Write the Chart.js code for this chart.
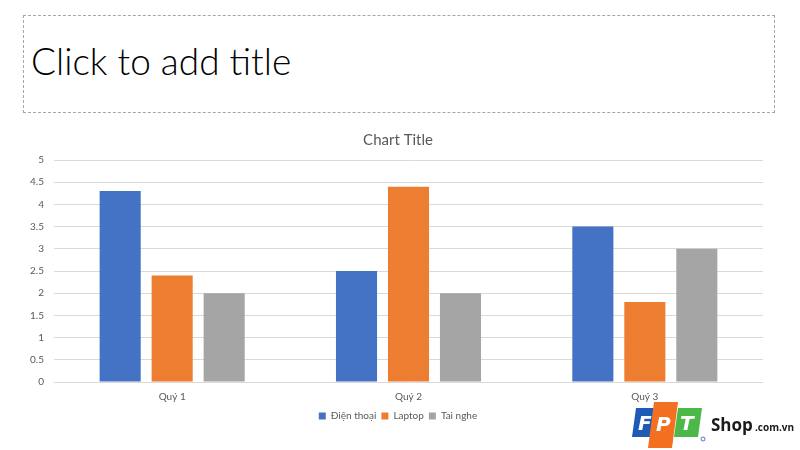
<!DOCTYPE html>
<html lang="vi">
<head>
  <meta charset="UTF-8">
  <title>Chart Title</title>
  <script src="https://cdn.jsdelivr.net/npm/chart.js@4"></script>
  <style>
    html, body { margin: 0; padding: 0; background: #fff; }
    body { width: 800px; height: 450px; position: relative; overflow: hidden; font-family: Lato, "Open Sans", sans-serif; }
    .title-box {
      position: absolute; left: 23px; top: 15px; width: 752px; height: 98px;
      border: 1.5px dashed #a6a6a6; box-sizing: border-box;
    }
    .title-box span {
      position: absolute; left: 7px; top: 26px; font-size: 37px; line-height: 37px; font-weight: 300; color: #000;
      white-space: nowrap;
    }
    .chart-wrap { position: absolute; left: 20px; top: 121px; width: 756px; height: 310px; }
    .logo { position: absolute; left: 628px; top: 400px; }
  </style>
</head>
<body>
  <div class="title-box"><span>Click to add title</span></div>

  <div class="chart-wrap">
    <canvas id="myChart"></canvas>
  </div>

  <!-- logo góc phải -->
  <svg class="logo" width="172" height="50" viewBox="0 0 172 50">
    <path d="M8 8 L28 8 L24 37 L4 37 Z" fill="#1d5bb5"/>
    <path d="M26 2 L50 2 L44 48 L20 48 Z" fill="#f37021"/>
    <path d="M50 8 L74 8 L70 37 L46 37 Z" fill="#4cb848"/>
    <text x="10" y="30" font-family="DejaVu Sans" font-weight="bold" font-style="italic" font-size="20" fill="#fff">F</text>
    <text x="28" y="31" font-family="DejaVu Sans" font-weight="bold" font-style="italic" font-size="20" fill="#fff">P</text>
    <text x="52" y="30" font-family="DejaVu Sans" font-weight="bold" font-style="italic" font-size="20" fill="#fff">T</text>
    <circle cx="75" cy="39" r="2" fill="none" stroke="#1d5bb5" stroke-width="0.8"/>
    <text x="83" y="31" font-family="'Open Sans', sans-serif" font-weight="bold" font-size="17" fill="#1a1a1a">Shop</text>
    <text x="127" y="31" font-family="'Open Sans', sans-serif" font-weight="bold" font-size="10" fill="#1a1a1a">.com.vn</text>
  </svg>

<script>
const categories = ['Quý 1', 'Quý 2', 'Quý 3'];
const seriesNames = ['Điện thoại', 'Laptop', 'Tai nghe'];
const dienThoai = [4.3, 2.5, 3.5];
const laptop = [2.4, 4.4, 1.8];
const taiNghe = [2, 2, 3];
const colors = ['#4472c4', '#ed7d31', '#a5a5a5'];
const yTicks = [0, 0.5, 1, 1.5, 2, 2.5, 3, 3.5, 4, 4.5, 5];

const textGray = '#595959';
const font = 'Lato, "Open Sans", sans-serif';

const values = [dienThoai, laptop, taiNghe];
const datasets = seriesNames.map((name, i) => ({
  label: name,
  data: values[i],
  backgroundColor: colors[i],
  categoryPercentage: 0.66,
  barPercentage: 0.79
}));

new Chart(document.getElementById('myChart'), {
  type: 'bar',
  data: { labels: categories, datasets: datasets },
  options: {
    responsive: true,
    maintainAspectRatio: false,
    animation: false,
    layout: { padding: 0 },
    scales: {
      x: {
        afterFit: (scale) => { scale.height = 24; },
        grid: { display: false, drawTicks: false },
        border: { display: false },
        ticks: { color: textGray, font: { family: font, size: 10 }, padding: 9 }
      },
      y: {
        min: 0,
        max: 5,
        afterBuildTicks: (scale) => { scale.ticks = yTicks.map(v => ({ value: v })); },
        afterFit: (scale) => { scale.width = 34; },
        grid: { color: '#d9d9d9', drawTicks: false },
        border: { display: false },
        ticks: { color: textGray, font: { family: font, size: 10 }, padding: 10, callback: (v) => String(v) }
      },
      // trục phụ bên phải chỉ để giữ khoảng trống, không hiển thị gì
      y2: {
        position: 'right',
        min: 0,
        max: 5,
        afterFit: (scale) => { scale.width = 13; },
        grid: { display: false, drawTicks: false },
        border: { display: false },
        ticks: { display: false }
      }
    },
    plugins: {
      title: {
        display: true,
        text: 'Chart Title',
        color: textGray,
        font: { family: font, size: 15, weight: 'normal' },
        padding: { top: 10, bottom: 11 }
      },
      legend: {
        position: 'bottom',
        labels: {
          color: textGray,
          font: { family: font, size: 10 },
          boxWidth: 7,
          boxHeight: 7,
          padding: 5
        }
      },
      tooltip: { enabled: false }
    }
  }
});
</script>
</body>
</html>
